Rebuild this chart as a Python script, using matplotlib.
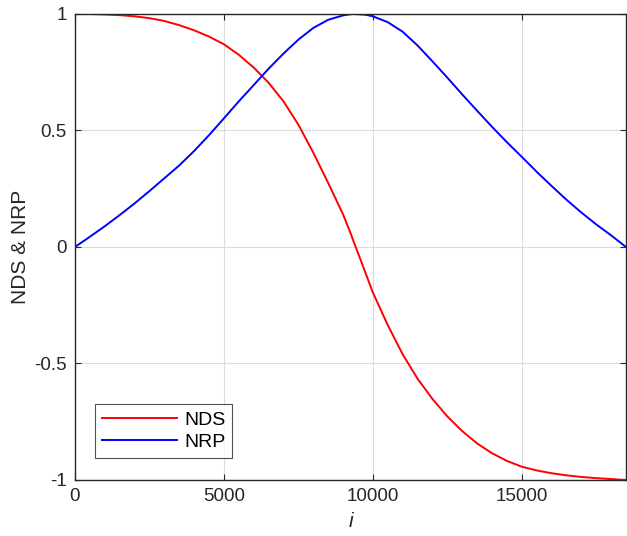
#!/bin/py
#
# NDS / NRP against sample index i
#
import numpy as np
import matplotlib
matplotlib.use("Agg")
import matplotlib.pyplot as plt

#
# data
#
idx = [0, 500, 1000, 1500, 2000, 2500, 3000, 3500, 4000, 4500, 5000,
       5500, 6000, 6500, 7000, 7500, 8000, 8500, 9000, 9250, 9350, 9500,
       9750, 10000, 10500, 11000, 11500, 12000, 12500, 13000, 13500, 14000,
       14500, 15000, 15500, 16000, 16500, 17000, 17500, 18000, 18500]

nds = [1.0, 1.0, 0.998, 0.995, 0.99, 0.982, 0.97, 0.952, 0.93, 0.903, 0.87,
       0.825, 0.77, 0.705, 0.625, 0.525, 0.405, 0.275, 0.14, 0.06, 0.025,
       -0.025, -0.11, -0.195, -0.335, -0.46, -0.565, -0.652, -0.727, -0.79,
       -0.843, -0.885, -0.918, -0.943, -0.959, -0.971, -0.98, -0.987, -0.992,
       -0.996, -1.0]

nrp = [0.0, 0.044, 0.089, 0.137, 0.187, 0.24, 0.295, 0.35, 0.412, 0.48, 0.552,
       0.625, 0.695, 0.765, 0.83, 0.89, 0.94, 0.975, 0.994, 0.999, 1.0, 0.999,
       0.997, 0.99, 0.965, 0.924, 0.865, 0.797, 0.727, 0.655, 0.585, 0.516,
       0.45, 0.387, 0.323, 0.262, 0.203, 0.148, 0.097, 0.05, 0.0]

xticks = [0, 5000, 10000, 15000]
yticks = [-1, -0.5, 0, 0.5, 1]
yticklabels = ['-1', '-0.5', '0', '0.5', '1']

#
# plot
#
plt.rcParams['font.family'] = ['Liberation Sans', 'DejaVu Sans']
axcol = '#262626'

fig = plt.figure(figsize=(6.27, 5.36), dpi=100)
ax = fig.add_axes([0.1196, 0.1045, 0.8788, 0.8694])

ax.plot(idx, nds, color='red', lw=1.4, label='NDS')
ax.plot(idx, nrp, color='blue', lw=1.4, label='NRP')

ax.set_xlim(0, 18500)
ax.set_ylim(-1, 1)
ax.set_xticks(xticks)
ax.set_xticklabels([str(t) for t in xticks])
ax.set_yticks(yticks)
ax.set_yticklabels(yticklabels)
ax.grid(True, color='#dcdcdc', lw=0.8)
ax.set_axisbelow(True)
ax.tick_params(direction='in', length=4, width=0.8, colors=axcol,
               labelsize=13.5, top=True, right=True, pad=6)
for s in ax.spines.values():
    s.set_color(axcol)
    s.set_linewidth(1.0)

ax.set_xlabel('i', style='italic', fontsize=15, color=axcol, labelpad=5)
ax.set_ylabel('NDS & NRP', fontsize=15, color=axcol, labelpad=3)

leg = ax.legend(loc='lower left', bbox_to_anchor=(0.036, 0.047),
                borderaxespad=0, fontsize=14, fancybox=False,
                handlelength=3.9, handletextpad=0.35, borderpad=0.35,
                labelspacing=0.25)
leg.get_frame().set_edgecolor(axcol)
leg.get_frame().set_linewidth(0.8)

plt.savefig('out.png', dpi=100)
plt.close()
